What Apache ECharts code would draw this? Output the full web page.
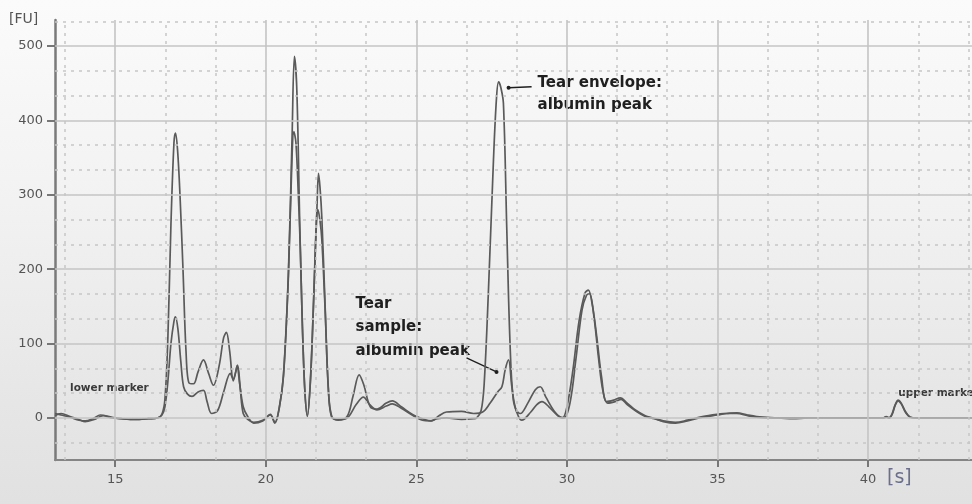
<!DOCTYPE html>
<html>
<head>
<meta charset="utf-8">
<script src="https://cdn.jsdelivr.net/npm/echarts@6/dist/echarts.min.js"></script>
<style>
  html, body { margin: 0; padding: 0; }
  body {
    width: 972px; height: 504px; overflow: hidden;
    background: linear-gradient(to bottom, #fbfbfb 0%, #f2f2f2 40%, #e6e6e6 80%, #e1e1e1 100%);
  }
  #chart { width: 972px; height: 504px; }
</style>
</head>
<body>
<div id="chart"></div>
<script>
// Axis ticks and grid lines
const yTickValues = [0, 100, 200, 300, 400, 500];
const xTickValues = [15, 20, 25, 30, 35, 40];
const yMinorValues = [-33.3, 33.3, 66.7, 133.3, 166.7, 233.3, 266.7, 333.3, 366.7, 433.3, 466.7, 533.3];
const xMinorValues = [13.33, 16.67, 18.33, 21.67, 23.33, 26.67, 28.33, 31.67, 33.33, 36.67, 38.33, 41.67, 43.33];

// Electropherogram traces: [time (s), fluorescence (FU)]
const tearSample = [
  [13.0, 3], [13.2, 6], [13.5, 2], [13.8, -2], [14.0, -5], [14.3, -2], [14.6, 3], [14.9, 0],
  [15.2, -1], [15.5, -2], [15.8, -2], [16.1, -1], [16.4, 0], [16.55, 5], [16.65, 25], [16.75, 110],
  [16.85, 260], [16.95, 370], [17.0, 383], [17.07, 360], [17.15, 300], [17.25, 200], [17.35, 90],
  [17.45, 47], [17.6, 46], [17.75, 62], [17.93, 78], [18.1, 60], [18.26, 44], [18.45, 70],
  [18.6, 108], [18.69, 115], [18.8, 90], [18.92, 50], [19.0, 62], [19.05, 70], [19.12, 50],
  [19.25, 15], [19.4, 2], [19.6, -7], [19.9, -4], [20.15, 4], [20.3, -7], [20.45, 15], [20.59, 60],
  [20.75, 195], [20.87, 374], [20.95, 486], [21.03, 441], [21.14, 239], [21.27, 60], [21.38, 2],
  [21.48, 50], [21.58, 150], [21.7, 284], [21.75, 329], [21.8, 310], [21.86, 270], [21.97, 150],
  [22.08, 38], [22.19, 2], [22.4, -3], [22.7, 2], [22.9, 30], [23.1, 58], [23.25, 45], [23.47, 15],
  [23.7, 12], [24.0, 20], [24.2, 23], [24.5, 15], [24.9, 4], [25.2, -1], [25.5, -4], [25.75, 3],
  [26.0, 8], [26.5, 9], [26.9, 6], [27.2, 8], [27.45, 20], [27.7, 35], [27.84, 42], [27.95, 65],
  [28.06, 78], [28.17, 42], [28.3, 12], [28.45, 6], [28.7, 20], [28.95, 38], [29.11, 42],
  [29.3, 28], [29.6, 8], [29.85, 0], [30.0, 15], [30.2, 65], [30.4, 130], [30.6, 168], [30.71, 172],
  [30.85, 150], [30.99, 109], [31.15, 55], [31.32, 22], [31.55, 24], [31.77, 27], [32.0, 20],
  [32.26, 11], [32.6, 3], [32.87, 0], [33.2, -4], [33.6, -6], [34.0, -3], [34.5, 2], [35.0, 5],
  [35.3, 6], [35.64, 7], [36.0, 4], [36.3, 2], [36.64, 1], [37.0, 0], [37.5, 0], [38.0, 0],
  [39.0, 0], [40.0, 0], [40.5, 0], [40.6, 2], [40.7, 0], [40.8, 6], [40.9, 18], [41.0, 24],
  [41.1, 20], [41.25, 8], [41.4, 1], [41.6, 0], [42.5, 0], [43.5, 0]
];

const tearEnvelope = [
  [13.0, 6], [13.2, 4], [13.5, 1], [13.8, -3], [14.0, -4], [14.3, 0], [14.5, 4], [14.9, 1],
  [15.2, -1], [15.5, -2], [15.8, -2], [16.1, -1], [16.4, 0], [16.55, 4], [16.65, 15], [16.75, 50],
  [16.85, 100], [16.95, 130], [17.0, 136], [17.08, 120], [17.18, 75], [17.27, 42], [17.4, 32],
  [17.55, 29], [17.75, 35], [17.93, 37], [18.05, 22], [18.2, 6], [18.4, 10], [18.6, 35],
  [18.82, 60], [18.92, 52], [19.06, 71], [19.15, 40], [19.25, 6], [19.4, -2], [19.6, -6],
  [19.9, -3], [20.15, 5], [20.3, -6], [20.45, 14], [20.59, 58], [20.75, 190], [20.87, 350],
  [20.93, 385], [21.0, 370], [21.08, 300], [21.14, 235], [21.27, 58], [21.38, 3], [21.48, 48],
  [21.58, 148], [21.68, 265], [21.73, 280], [21.8, 265], [21.86, 240], [21.97, 145], [22.08, 36],
  [22.19, 1], [22.4, -2], [22.7, 0], [23.0, 18], [23.24, 28], [23.45, 18], [23.69, 11], [24.0, 16],
  [24.2, 19], [24.5, 13], [24.9, 3], [25.2, -3], [25.46, -4], [25.7, -1], [26.0, 0], [26.5, -2],
  [26.9, -1], [27.0, 0], [27.15, 10], [27.25, 45], [27.39, 168], [27.56, 347], [27.66, 430],
  [27.73, 452], [27.8, 445], [27.89, 423], [28.0, 257], [28.11, 100], [28.22, 24], [28.39, 2],
  [28.5, -3], [28.8, 8], [29.0, 18], [29.17, 22], [29.4, 15], [29.7, 3], [29.9, 0], [30.1, 20],
  [30.3, 80], [30.5, 145], [30.65, 165], [30.75, 167], [30.9, 135], [31.05, 80], [31.2, 35],
  [31.35, 20], [31.6, 22], [31.8, 25], [32.0, 18], [32.3, 9], [32.6, 2], [32.9, -1], [33.2, -5],
  [33.6, -7], [34.0, -4], [34.5, 1], [35.0, 4], [35.3, 6], [35.64, 6], [36.0, 3], [36.3, 1],
  [36.64, 0], [37.0, 0], [37.5, -1], [38.0, 0], [39.0, 0], [40.0, 0], [40.5, 0], [40.6, 1],
  [40.7, 0], [40.8, 5], [40.9, 17], [41.0, 23], [41.1, 19], [41.25, 7], [41.4, 1], [41.6, 0],
  [42.5, 0], [43.5, 0]
];

const traceColor = '#5a5a5a';
const chart = echarts.init(document.getElementById('chart'), null, { renderer: 'canvas' });

const option = {
  animation: false,
  backgroundColor: 'transparent',
  grid: { left: 55, top: 20, right: 0, bottom: 44, containLabel: false },
  xAxis: {
    type: 'value', min: 13, max: 43.45,
    axisLine: { show: true, onZero: false, lineStyle: { color: '#858585', width: 2 } },
    axisTick: { show: true, length: 7, customValues: xTickValues, lineStyle: { color: '#777', width: 2 } },
    axisLabel: { customValues: xTickValues, margin: 13, color: '#555', fontSize: 13, fontFamily: 'DejaVu Sans' },
    splitLine: { show: false }
  },
  yAxis: {
    type: 'value', min: -56.5, max: 535,
    axisLine: { show: true, onZero: false, lineStyle: { color: '#7a7a7a', width: 2.5 } },
    axisTick: { show: true, length: 8, customValues: yTickValues, lineStyle: { color: '#777', width: 2 } },
    axisLabel: { customValues: yTickValues, margin: 12, color: '#555', fontSize: 13, fontFamily: 'DejaVu Sans' },
    splitLine: { show: false }
  },
  series: [
    {
      name: 'minor grid', type: 'line', data: [], silent: true, z: 1,
      markLine: {
        silent: true, symbol: 'none', animation: false, label: { show: false },
        lineStyle: { color: '#c6c6c6', width: 1.5, type: [3, 5] },
        emphasis: { disabled: true },
        data: yMinorValues.map(v => ({ yAxis: v })).concat(xMinorValues.map(v => ({ xAxis: v })))
      }
    },
    {
      name: 'major grid', type: 'line', data: [], silent: true, z: 1,
      markLine: {
        silent: true, symbol: 'none', animation: false, label: { show: false },
        lineStyle: { color: '#c4c4c4', width: 1.6, type: 'solid' },
        emphasis: { disabled: true },
        data: yTickValues.map(v => ({ yAxis: v })).concat(xTickValues.map(v => ({ xAxis: v })))
      }
    },
    {
      name: 'Tear sample', type: 'line', data: tearSample, z: 3,
      showSymbol: false, smooth: 0.35, clip: true,
      lineStyle: { color: traceColor, width: 1.7 }
    },
    {
      name: 'Tear envelope', type: 'line', data: tearEnvelope, z: 3,
      showSymbol: false, smooth: 0.35, clip: true,
      lineStyle: { color: traceColor, width: 1.7 }
    }
  ]
};
chart.setOption(option);

// Annotations anchored to the data points they describe
const px = p => chart.convertToPixel({ gridIndex: 0 }, p);
const envPeak = px([27.73, 452]);
const smpPeak = px([28.06, 78]);
const lowerAnchor = px([13.5, 40]);
const upperAnchor = px([41.0, 24]);
const noteFont = 'bold 15px "DejaVu Sans"';
const markerFont = 'bold 10.5px "DejaVu Sans"';
const ink = '#1f1f1f';

chart.setOption({
  graphic: [
    { type: 'text', left: 9, top: 12, silent: true,
      style: { text: '[FU]', fill: '#555', font: '14px "DejaVu Sans"' } },
    { type: 'text', left: 887, top: 469, silent: true,
      style: { text: '[s]', fill: '#6c6f8c', font: '19px "DejaVu Sans"' } },

    { type: 'text', x: lowerAnchor[0], y: lowerAnchor[1], silent: true,
      style: { text: 'lower marker', fill: '#3a3a3a', font: markerFont, verticalAlign: 'middle' } },
    { type: 'text', x: upperAnchor[0], y: upperAnchor[1] - 7, silent: true,
      style: { text: 'upper marker', fill: '#3a3a3a', font: markerFont, verticalAlign: 'middle' } },

    // Tear envelope albumin peak
    { type: 'line', silent: true,
      shape: { x1: envPeak[0] + 10, y1: envPeak[1] + 6, x2: envPeak[0] + 33, y2: envPeak[1] + 5 },
      style: { stroke: ink, lineWidth: 1.5 } },
    { type: 'circle', silent: true, shape: { cx: envPeak[0] + 10, cy: envPeak[1] + 6, r: 2 }, style: { fill: ink } },
    { type: 'text', x: envPeak[0] + 39, y: envPeak[1] - 10, silent: true,
      style: { text: 'Tear envelope:\nalbumin peak', fill: ink, font: noteFont, lineHeight: 22, verticalAlign: 'top' } },

    // Tear sample albumin peak
    { type: 'line', silent: true,
      shape: { x1: smpPeak[0] - 42, y1: smpPeak[1] - 2, x2: smpPeak[0] - 12, y2: smpPeak[1] + 12 },
      style: { stroke: ink, lineWidth: 1.3 } },
    { type: 'circle', silent: true, shape: { cx: smpPeak[0] - 12, cy: smpPeak[1] + 12, r: 2 }, style: { fill: ink } },
    { type: 'text', x: smpPeak[0] - 153, y: smpPeak[1] - 68, silent: true,
      style: { text: 'Tear\nsample:\nalbumin peak', fill: ink, font: noteFont, lineHeight: 23.5, verticalAlign: 'top' } }
  ]
});
</script>
</body>
</html>
